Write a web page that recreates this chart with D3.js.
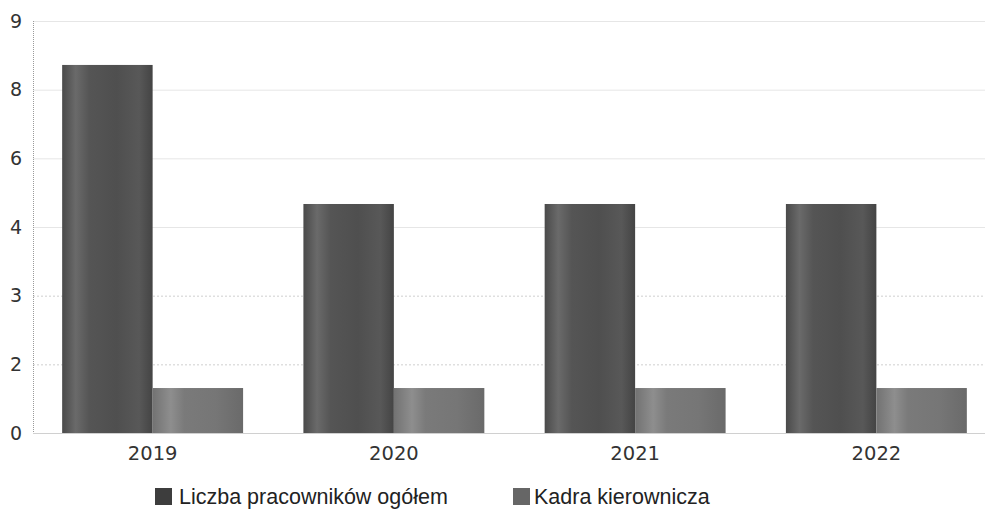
<!DOCTYPE html>
<html><head><meta charset="utf-8">
<script src="https://cdn.jsdelivr.net/npm/d3@7"></script>
<style>body{margin:0;background:#fff}</style>
</head><body>
<svg id="c" width="987" height="512"></svg>
<script>
const categories = ["2019","2020","2021","2022"];
const seriesNames = ["Liczba pracowników ogółem","Kadra kierownicza"];
const totalEmployees = [8.36, 4.67, 4.67, 4.67];
const managers = [1.31, 1.31, 1.31, 1.31];
const yTickLabels = [0, 2, 3, 4, 6, 8, 9];

const svg = d3.select("#c");
const plotTop = 21, plotBottom = 433, plotLeft = 33, plotRight = 985;

// piecewise scale: labelled ticks are equally spaced
const y = d3.scaleLinear()
  .domain(yTickLabels)
  .range(yTickLabels.map((d,i)=> plotBottom - i*(plotBottom-plotTop)/(yTickLabels.length-1)));

const x0 = d3.scaleBand().domain(categories).range([32, 997]).paddingInner(0.25).paddingOuter(0.125);
const x1 = d3.scaleBand().domain(seriesNames).range([0, x0.bandwidth()]).padding(0);

const defs = svg.append("defs");
function grad(id, stops){
  const g = defs.append("linearGradient").attr("id", id).attr("x1","0").attr("x2","1").attr("y1","0").attr("y2","0");
  stops.forEach(s=>g.append("stop").attr("offset", s[0]).attr("stop-color", s[1]));
}
grad("gDark", [[0,"#4a4a4a"],[0.15,"#6a6a6a"],[0.3,"#555"],[0.6,"#4f4f4f"],[0.85,"#585858"],[1,"#444"]]);
grad("gLight", [[0,"#727272"],[0.2,"#8e8e8e"],[0.35,"#7a7a7a"],[0.7,"#767676"],[1,"#6a6a6a"]]);
const fills = {"Liczba pracowników ogółem":"url(#gDark)","Kadra kierownicza":"url(#gLight)"};
const legendFills = {"Liczba pracowników ogółem":"#3d3d3d","Kadra kierownicza":"#666"};

// gridlines
const grid = svg.append("g");
yTickLabels.forEach((t)=>{
  if (t===0) return;
  const dotted = (t===2||t===3);
  grid.append("line")
    .attr("x1", plotLeft).attr("x2", plotRight)
    .attr("y1", y(t)+0.5).attr("y2", y(t)+0.5)
    .attr("stroke", dotted ? "#cfcfcf" : "#e6e6e6")
    .attr("stroke-width", 1)
    .attr("stroke-dasharray", dotted ? "2,2" : null);
});
// left axis line (dotted)
svg.append("line").attr("x1", plotLeft+0.5).attr("x2", plotLeft+0.5)
  .attr("y1", plotTop).attr("y2", plotBottom)
  .attr("stroke","#9a9a9a").attr("stroke-dasharray","1,1");

// y axis labels
const yAxis = d3.axisLeft(y).tickValues(yTickLabels).tickSize(0).tickPadding(0).tickFormat(d3.format("d"));
const ya = svg.append("g").attr("transform", `translate(${22},0)`).call(yAxis);
ya.select(".domain").remove();
ya.selectAll("text").attr("font-family","DejaVu Sans, Verdana, sans-serif").attr("font-size",19).attr("fill","#333");

// bars
const rows = categories.map((c,i)=>({cat:c, vals:[{s:seriesNames[0], v:totalEmployees[i]},{s:seriesNames[1], v:managers[i]}]}));
const gBars = svg.append("g");
rows.forEach(r=>{
  const g = gBars.append("g").attr("transform", `translate(${x0(r.cat)},0)`);
  g.selectAll("rect").data(r.vals).join("rect")
    .attr("x", d=>x1(d.s))
    .attr("y", d=>y(d.v))
    .attr("width", x1.bandwidth())
    .attr("height", d=>y(0)-y(d.v))
    .attr("fill", d=>fills[d.s]);
});

// baseline
svg.append("line").attr("x1", plotLeft).attr("x2", plotRight)
  .attr("y1", plotBottom+0.5).attr("y2", plotBottom+0.5).attr("stroke","#d0d0d0");

// x axis
const xAxis = d3.axisBottom(x0).tickSize(0).tickPadding(13);
const xa = svg.append("g").attr("transform", `translate(0,${plotBottom})`).call(xAxis);
xa.select(".domain").remove();
xa.selectAll("text").attr("font-family","DejaVu Sans, Verdana, sans-serif").attr("font-size",19.5).attr("fill","#333");

// legend
const legendX = [155, 513];
const lg = svg.append("g");
seriesNames.forEach((s,i)=>{
  const g = lg.append("g").attr("transform", `translate(${legendX[i]},488)`);
  g.append("rect").attr("width",17).attr("height",17).attr("fill",legendFills[s]);
  g.append("text").attr("x",i===0?24:21).attr("y",16).text(s)
    .attr("font-family","Liberation Sans, Arial, sans-serif").attr("font-size",21.5).attr("fill","#222");
});
</script>
</body></html>
